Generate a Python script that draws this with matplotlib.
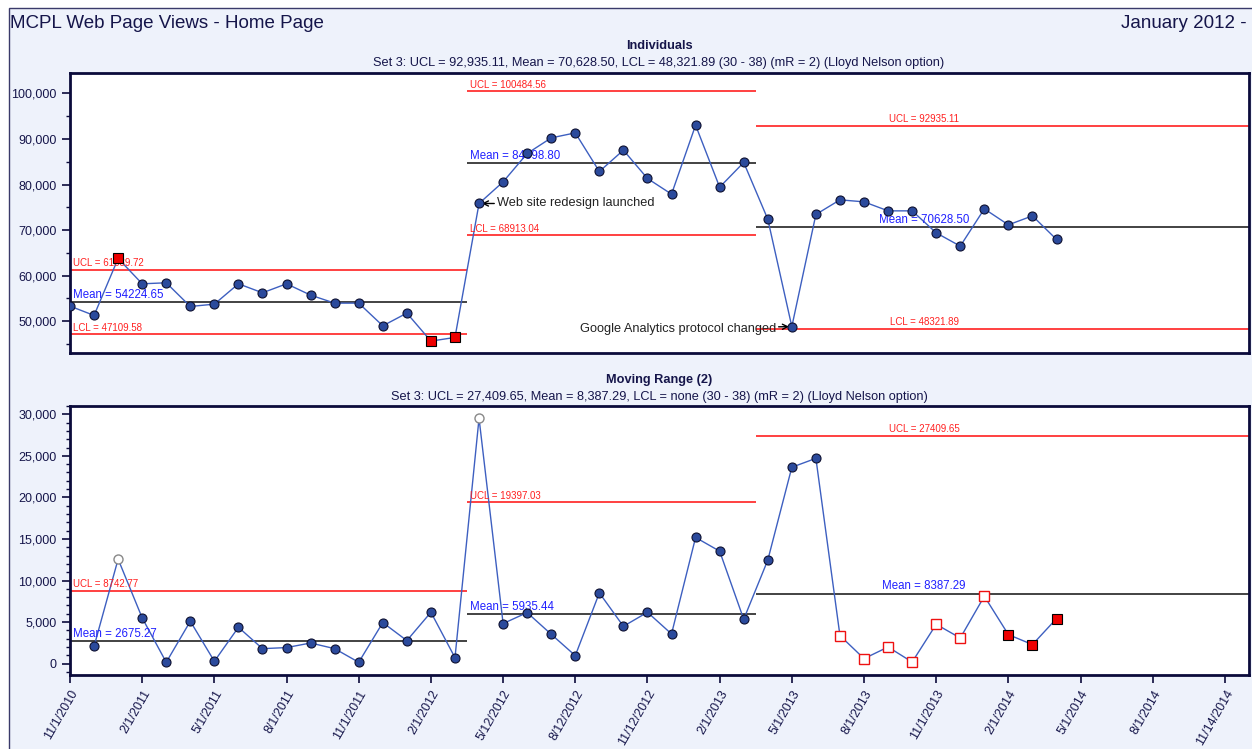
import matplotlib.pyplot as plt
from matplotlib.patches import Rectangle
from matplotlib.ticker import MultipleLocator, FuncFormatter
import numpy as np

plt.rcParams['font.family'] = ['Liberation Sans', 'DejaVu Sans']

# Dates sur l'axe X (un repere tous les 3 points)
tick_labels = ["11/1/2010", "2/1/2011", "5/1/2011", "8/1/2011", "11/1/2011",
               "2/1/2012", "5/12/2012", "8/12/2012", "11/12/2012", "2/1/2013",
               "5/1/2013", "8/1/2013", "11/1/2013", "2/1/2014", "5/1/2014",
               "8/1/2014", "11/14/2014"]

# Vues de la page d'accueil (individuals)
views = [53300, 51250, 63770, 58200, 58420, 53220, 53730, 58200, 56220, 58200,
         55710, 53950, 53950, 48970, 51760, 45610, 46420,
         75840, 80590, 86820, 90250, 91350, 82870, 87550, 81330, 77890, 93040,
         79420, 84850,
         72400, 48800, 73430, 76640, 76200, 74220, 74220, 69390, 66470, 74660,
         71150, 73120, 67940]

# Moving range (commence au 2e point)
mrange = [2080, 12570, 5500, 160, 5100, 280, 4370, 1800, 1930, 2480, 1800, 160,
          4940, 2770, 6180, 720, 29520,
          4820, 6140, 3530, 960, 8510, 4490, 6180, 3570, 15180, 13530, 5340,
          12450, 23630, 24700, 3370, 600, 2000, 190, 4730, 3080, 8110, 3490,
          2290, 5420]

# Limites par phase
set_first = [0, 17, 29]
set_last = [16, 28, 41]
ind_ucl = [61339.72, 100484.56, 92935.11]
ind_mean = [54224.65, 84698.80, 70628.50]
ind_lcl = [47109.58, 68913.04, 48321.89]
mr_ucl = [8742.77, 19397.03, 27409.65]
mr_mean = [2675.27, 5935.44, 8387.29]

# Points hors controle
ind_red = [2, 15, 16]
mr_grey_open = [2, 17]
mr_red_open = [32, 33, 34, 35, 36, 37, 38]
mr_red_full = [39, 40, 41]

navy = "#15154a"
line_blue = "#3d5fc0"
pt_blue = "#2b4a9c"
bg = "#eef2fb"

fig = plt.figure(figsize=(12.52, 7.49), dpi=100)
fig.patch.set_facecolor("white")
fig.patches.append(Rectangle((9 / 1252, -0.01), 1.0, 1 - 8 / 749 + 0.01,
                             transform=fig.transFigure, facecolor=bg,
                             edgecolor="#3a3a6a", lw=1.0, zorder=-10))

ax1 = fig.add_axes([70 / 1252, 1 - 353 / 749, 1179 / 1252, 280 / 749])
ax2 = fig.add_axes([70 / 1252, 1 - 675 / 749, 1179 / 1252, 269 / 749])

x_ind = np.arange(len(views))
x_mr = np.arange(1, len(mrange) + 1)
xmax = 49


def spans():
    out = []
    for k in range(3):
        a = set_first[k] - 0.5
        b = set_last[k] + 0.5 if k < 2 else xmax
        out.append((a, b))
    return out


def limit_label(ax, k, y, txt, color, size):
    a, b = spans()[k]
    if k < 2:
        ax.text(max(a, 0) + 0.12, y, txt, color=color, fontsize=size,
                ha="left", va="bottom")
    else:
        ax.text((set_first[k] + set_last[k]) / 2 + 0.5, y, txt, color=color,
                fontsize=size, ha="center", va="bottom")


for ax in (ax1, ax2):
    ax.set_facecolor("white")
    for s in ax.spines.values():
        s.set_color("#0b0b3b")
        s.set_linewidth(2)
    ax.set_xlim(0, xmax)
    ax.tick_params(axis="y", colors="#0b0b3b", labelcolor=navy, labelsize=9,
                   length=6, width=1.2, direction="out")
    ax.tick_params(axis="y", which="minor", length=3, width=1, colors="#0b0b3b")
    ax.yaxis.set_major_formatter(FuncFormatter(lambda v, p: f"{int(v):,}"))

# --- Individuals ---
ax1.plot(x_ind, views, color=line_blue, lw=1, zorder=3)
normal = [i for i in x_ind if i not in ind_red]
ax1.plot(normal, [views[i] for i in normal], "o", ms=6.5, mfc=pt_blue,
         mec="#0d1030", mew=0.8, zorder=4)
ax1.plot(ind_red, [views[i] for i in ind_red], "s", ms=7, mfc="#ee0000",
         mec="black", mew=0.8, zorder=4)

for k, (a, b) in enumerate(spans()):
    ax1.hlines([ind_ucl[k], ind_lcl[k]], a, b, color="#ff2020", lw=1.2, zorder=2)
    ax1.hlines(ind_mean[k], a, b, color="#222222", lw=1.2, zorder=2)
    limit_label(ax1, k, ind_ucl[k] + 300, f"UCL = {ind_ucl[k]:.2f}", "#ff2020", 7)
    limit_label(ax1, k, ind_lcl[k] + 300, f"LCL = {ind_lcl[k]:.2f}", "#ff2020", 7)
    limit_label(ax1, k, ind_mean[k] + 300, f"Mean = {ind_mean[k]:.2f}", "#2020ff", 8.3)

ax1.set_ylim(43000, 104500)
ax1.yaxis.set_major_locator(MultipleLocator(10000))
ax1.yaxis.set_minor_locator(MultipleLocator(5000))
ax1.set_xticks([])

ax1.annotate("Web site redesign launched", xy=(17, views[17]), xytext=(18, 0),
             textcoords="offset pixels", ha="left", va="center", fontsize=9.2,
             color="#222222",
             arrowprops=dict(arrowstyle="->", color="black", lw=1,
                             shrinkA=0, shrinkB=2))
ax1.annotate("Google Analytics protocol changed", xy=(30, views[30]),
             xytext=(-16, -2), textcoords="offset pixels", ha="right",
             va="center", fontsize=9.2, color="#222222",
             arrowprops=dict(arrowstyle="->", color="black", lw=1,
                             shrinkA=0, shrinkB=2))

# --- Moving range ---
ax2.plot(x_mr, mrange, color=line_blue, lw=1, zorder=3)
special = mr_grey_open + mr_red_open + mr_red_full
normal = [i for i in x_mr if i not in special]
ax2.plot(normal, [mrange[i - 1] for i in normal], "o", ms=6.5, mfc=pt_blue,
         mec="#0d1030", mew=0.8, zorder=4)
ax2.plot(mr_grey_open, [mrange[i - 1] for i in mr_grey_open], "o", ms=6.5,
         mfc="white", mec="#888888", mew=1, zorder=4)
ax2.plot(mr_red_open, [mrange[i - 1] for i in mr_red_open], "s", ms=7,
         mfc="white", mec="#ee1111", mew=1, zorder=4)
ax2.plot(mr_red_full, [mrange[i - 1] for i in mr_red_full], "s", ms=7,
         mfc="#ee0000", mec="black", mew=0.8, zorder=4)

for k, (a, b) in enumerate(spans()):
    ax2.hlines(mr_ucl[k], a, b, color="#ff2020", lw=1.2, zorder=2)
    ax2.hlines(mr_mean[k], a, b, color="#222222", lw=1.2, zorder=2)
    limit_label(ax2, k, mr_ucl[k] + 200, f"UCL = {mr_ucl[k]:.2f}", "#ff2020", 7)
    limit_label(ax2, k, mr_mean[k] + 200, f"Mean = {mr_mean[k]:.2f}", "#2020ff", 8.3)

ax2.set_ylim(-1370, 31000)
ax2.yaxis.set_major_locator(MultipleLocator(5000))
ax2.yaxis.set_minor_locator(MultipleLocator(1000))
ax2.set_xticks(np.arange(0, 49, 3))
ax2.set_xticklabels(tick_labels, rotation=60, ha="right", rotation_mode="anchor")
ax2.tick_params(axis="x", colors="#0b0b3b", labelcolor=navy, labelsize=9,
                length=6, width=1.2, direction="out")

# Titres
fig.text(10 / 1252, 1 - 23 / 749, "MCPL Web Page Views - Home Page", fontsize=13.5,
         color=navy, ha="left", va="center")
fig.text(1247 / 1252, 1 - 23 / 749, "January 2012 -", fontsize=13.5,
         color=navy, ha="right", va="center")
fig.text(659 / 1252, 1 - 46 / 749, "Individuals", fontsize=9.2,
         fontweight="bold", color=navy, ha="center", va="center")
fig.text(659 / 1252, 1 - 63 / 749,
         "Set 3: UCL = 92,935.11, Mean = 70,628.50, LCL = 48,321.89 (30 - 38) (mR = 2) (Lloyd Nelson option)",
         fontsize=9.2, color=navy, ha="center", va="center")
fig.text(659 / 1252, 1 - 380 / 749, "Moving Range (2)", fontsize=9.2,
         fontweight="bold", color=navy, ha="center", va="center")
fig.text(659 / 1252, 1 - 397 / 749,
         "Set 3: UCL = 27,409.65, Mean = 8,387.29, LCL = none (30 - 38) (mR = 2) (Lloyd Nelson option)",
         fontsize=9.2, color=navy, ha="center", va="center")

fig.savefig("out.png", dpi=100, facecolor=fig.get_facecolor())
